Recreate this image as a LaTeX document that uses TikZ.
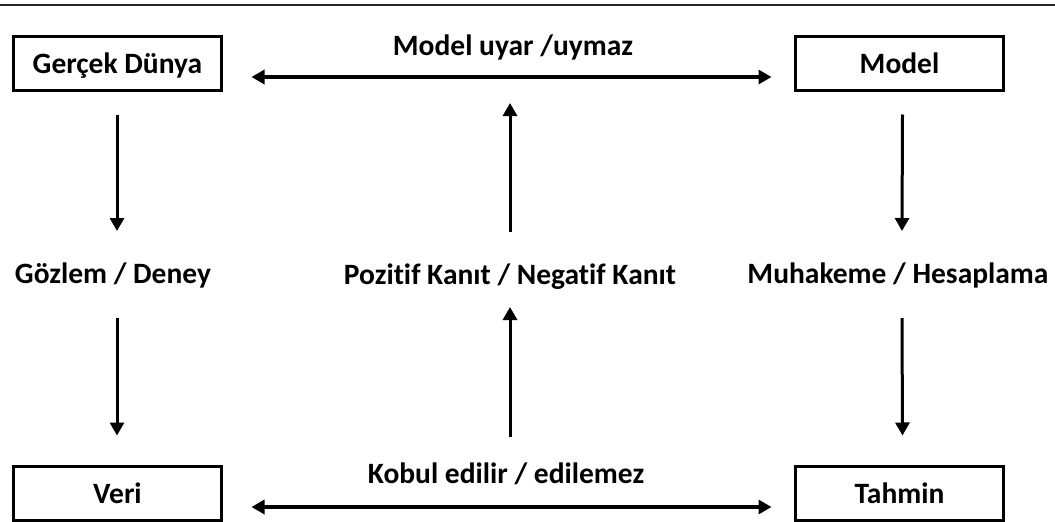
\documentclass[tikz,border=0pt]{standalone}
\usepackage{fontspec}
\setmainfont{Carlito}[Ligatures=NoCommon]
\usetikzlibrary{arrows.meta}
\tikzset{
  txt/.style={font=\fontsize{29.5}{35}\selectfont\bfseries, inner sep=0pt},
  stage/.style={txt, draw, line width=3pt, minimum width=208pt, minimum height=54pt,
    text height=25pt, text depth=6pt},
  lbl/.style={txt, anchor=base},
  flow/.style={line width=3pt, -{Triangle[width=14pt,length=13pt]}},
  both/.style={line width=3.5pt, {Triangle[width=14pt,length=13pt]}-{Triangle[width=14pt,length=13pt]}}
}
\begin{document}
\begin{tikzpicture}[x=1pt, y=-1pt]
\useasboundingbox (0,0) rectangle (1055,522);
% top rule
\draw[line width=2pt, black!85] (0,5) -- (1055,5);

% the four stages
\node[stage] (gd) at (117.5,63.5) {Gerçek Dünya};
\node[stage] (model) at (899.5,63.5) {Model};
\node[stage] (veri) at (117.5,493.5) {Veri};
\node[stage] (tahmin) at (899.5,493.5) {Tahmin};

% labels
\node[lbl] (fit) at (513,55) {Model uyar /uymaz};
\node[lbl] (obs) at (113,283) {Gözlem / Deney};
\node[lbl] (evid) at (510,284) {Pozitif Kanıt / Negatif Kanıt};
\node[lbl] (calc) at (898,283) {Muhakeme / Hesaplama};
\node[lbl] (acc) at (506,483) {Kobul edilir / edilemez};

% horizontal comparisons
\draw[both] ([xshift=28.5pt,yshift=-13.5pt]gd.east) -- ([xshift=-22.5pt,yshift=-13.5pt]model.west);
\draw[both] ([xshift=28.5pt,yshift=-13.5pt]veri.east) -- ([xshift=-22.5pt,yshift=-13.5pt]tahmin.west);

% left column: real world -> observation -> data
\draw[flow] ([xshift=-0.5pt,yshift=-22.5pt]gd.south) -- ([xshift=4pt,yshift=52pt]obs.base);
\draw[flow] ([xshift=4pt,yshift=-35pt]obs.base) -- ([xshift=-0.5pt,yshift=29.5pt]veri.north);

% right column: model -> reasoning -> prediction
\draw[flow] ([xshift=3pt,yshift=-22.5pt]model.south) -- ([xshift=4pt,yshift=52pt]calc.base);
\draw[flow] ([xshift=4pt,yshift=-35pt]calc.base) -- ([xshift=3pt,yshift=29.5pt]tahmin.north);

% middle column: evidence goes upward
\draw[flow] ([yshift=46pt]acc.base -| evid.base) -- ([yshift=-23pt]evid.base);
\draw[flow] ([yshift=52pt]evid.base) -- ([yshift=-48pt]fit.base -| evid.base);
\end{tikzpicture}
\end{document}
